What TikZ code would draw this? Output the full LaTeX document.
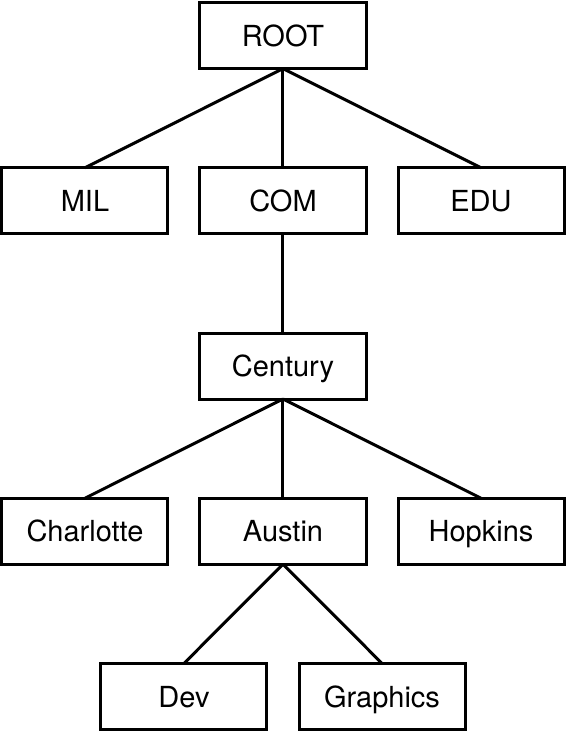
\documentclass[tikz,border=0pt]{standalone}
\usepackage{fontspec}
\setmainfont{TeX Gyre Heros}
\usetikzlibrary{positioning}

\begin{document}
\begin{tikzpicture}[
    node_box/.style={rectangle, draw, line width=1.5pt, minimum width=83pt, minimum height=33pt, inner sep=0pt, outer sep=0pt, text height=13pt, text depth=2.4pt, font=\fontsize{14.5}{16}\selectfont},
    edge_line/.style={line width=1.5pt},
    node distance=49.6pt and 16pt
  ]
    \useasboundingbox (-141.5pt,17.8pt) rectangle (142.5pt,-348.7pt);

    \node[node_box] (ROOT) {ROOT};

    \node[node_box, below=of ROOT] (COM) {COM};
    \node[node_box, left=of COM] (MIL) {MIL};
    \node[node_box, right=of COM] (EDU) {EDU};

    \node[node_box, below=of COM] (Century) {Century};

    \node[node_box, below=of Century] (Austin) {Austin};
    \node[node_box, left=of Austin] (Charlotte) {Charlotte};
    \node[node_box, right=of Austin] (Hopkins) {Hopkins};

    \node[node_box, below=of Austin, xshift=-49.5pt] (Dev) {Dev};
    \node[node_box, right=of Dev] (Graphics) {Graphics};

    \draw[edge_line] (ROOT.south) to (MIL.north);
    \draw[edge_line] (ROOT.south) to (COM.north);
    \draw[edge_line] (ROOT.south) to (EDU.north);

    \draw[edge_line] (COM) to (Century);

    \draw[edge_line] (Century.south) to (Charlotte.north);
    \draw[edge_line] (Century.south) to (Austin.north);
    \draw[edge_line] (Century.south) to (Hopkins.north);

    \draw[edge_line] (Austin.south) to (Dev.north);
    \draw[edge_line] (Austin.south) to (Graphics.north);
  \end{tikzpicture}
\end{document}
